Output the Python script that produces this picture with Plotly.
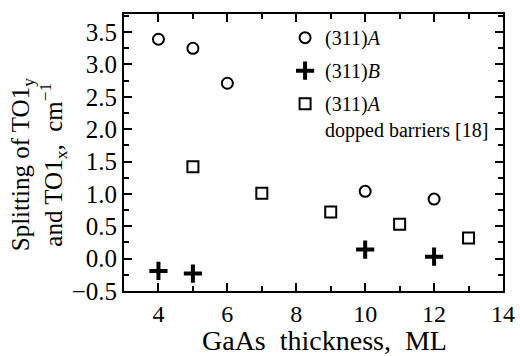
import plotly.graph_objects as go

# Data
xA = [4, 5, 6, 10, 12]
yA = [3.39, 3.25, 2.71, 1.04, 0.92]
xB = [4, 5, 10, 12]
yB = [-0.19, -0.23, 0.14, 0.03]
xD = [5, 7, 9, 11, 13]
yD = [1.42, 1.01, 0.72, 0.53, 0.32]

xticks = [4, 6, 8, 10, 12, 14]
yticks = [-0.5, 0.0, 0.5, 1.0, 1.5, 2.0, 2.5, 3.0, 3.5]

FONT = "Liberation Serif, Times New Roman, serif"

fig = go.Figure()
fig.add_trace(go.Scatter(x=xA, y=yA, mode="markers", name="(311)<i>A</i>",
                         legendgroup="a",
                         marker=dict(symbol="circle-open", size=11, color="black",
                                     line=dict(width=2, color="black"))))
fig.add_trace(go.Scatter(x=xB, y=yB, mode="markers", name="(311)<i>B</i>",
                         legendgroup="b",
                         marker=dict(symbol="cross-thin", size=13, color="black",
                                     line=dict(width=4, color="black"))))
fig.add_trace(go.Scatter(x=xD, y=yD, mode="markers",
                         name="(311)<i>A</i><br>dopped barriers [18]",
                         legendgroup="c",
                         marker=dict(symbol="square-open", size=11, color="black",
                                     line=dict(width=2, color="black"))))

axis_common = dict(showgrid=False, zeroline=False, showline=True, linecolor="black",
                   linewidth=2, mirror="allticks", ticks="inside", tickcolor="black",
                   tickwidth=1.5, ticklen=8, automargin=False)

fig.update_xaxes(range=[3, 14], tickvals=xticks,
                 ticktext=[str(v) for v in xticks],
                 tickfont=dict(family=FONT, size=24, color="black"),
                 minor=dict(dtick=1, tick0=3, ticks="inside", ticklen=5, tickwidth=1.5,
                            tickcolor="black"),
                 **axis_common)
fig.update_yaxes(range=[-0.5, 3.78], tickvals=yticks,
                 ticktext=["\u22120.5" if v < 0 else f"{v:.1f}" for v in yticks],
                 tickfont=dict(family=FONT, size=25, color="black"),
                 minor=dict(dtick=0.25, tick0=-0.5, ticks="inside", ticklen=5, tickwidth=1.5,
                            tickcolor="black"),
                 **axis_common)

# axis titles as text blocks
fig.add_annotation(text="Splitting of TO1<sub>y</sub><br>and TO1<sub>x</sub>,  cm<sup>\u22121</sup>",
                   xref="paper", yref="paper", x=-0.225, y=0.5, yshift=-12,
                   xanchor="center", yanchor="middle", textangle=-90,
                   showarrow=False, align="center",
                   font=dict(family=FONT, size=25, color="black"))
fig.add_annotation(text="GaAs  thickness,  ML",
                   xref="paper", yref="paper", x=0.528, y=0, yshift=-49,
                   xanchor="center", yanchor="middle",
                   showarrow=False,
                   font=dict(family=FONT, size=28, color="black"))

fig.update_layout(
    width=520, height=356,
    margin=dict(l=124, r=17, t=14, b=65),
    paper_bgcolor="white", plot_bgcolor="white",
    showlegend=True,
    legend=dict(x=0.425, y=0.985, xanchor="left", yanchor="top",
                bgcolor="rgba(0,0,0,0)", borderwidth=0, valign="top",
                font=dict(family=FONT, size=20, color="black"),
                itemwidth=30, tracegroupgap=4),
    font=dict(family=FONT, color="black"),
)

fig.write_html("out.html", config={"displayModeBar": False},
               post_script="document.body.style.margin='0';document.body.style.overflow='hidden';")
